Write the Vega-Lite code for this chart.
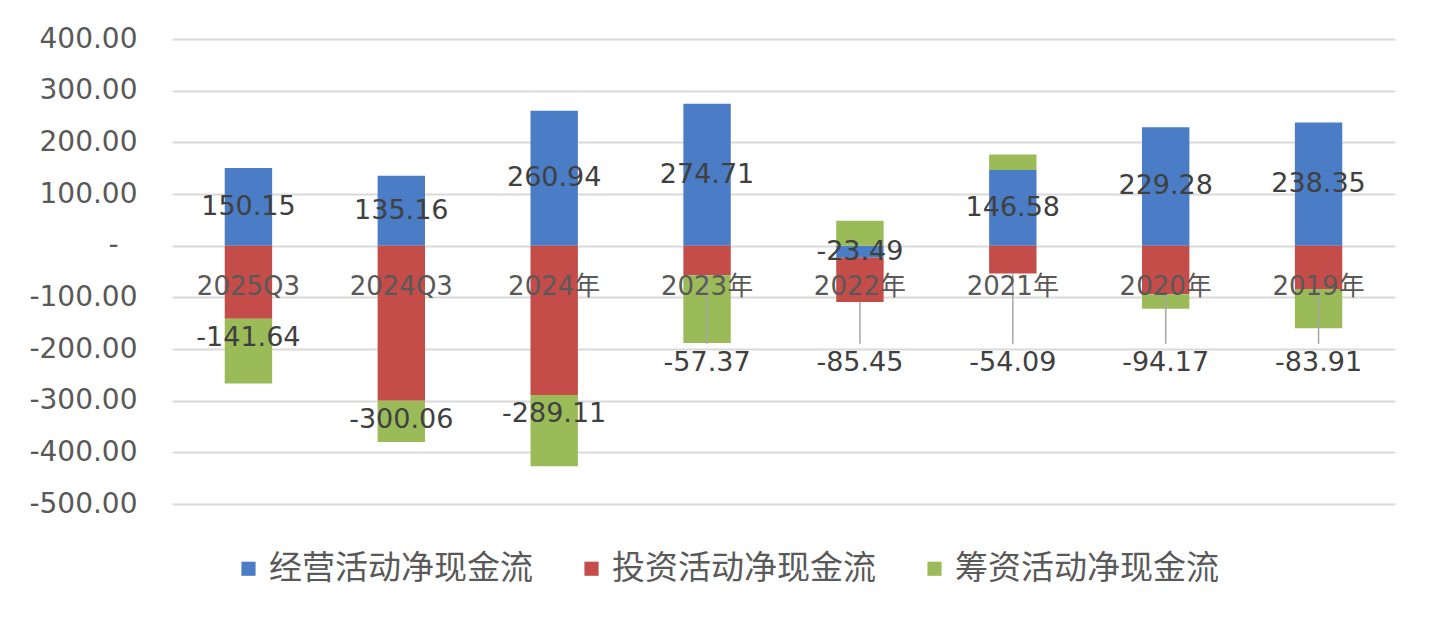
{
  "$schema": "https://vega.github.io/schema/vega-lite/v6.json",
  "width": 1223,
  "height": 465,
  "autosize": {"type": "none"},
  "padding": {"left": 172, "top": 39, "right": 43, "bottom": 118},
  "background": "#ffffff",
  "config": {
    "view": {"stroke": null},
    "font": "DejaVu Sans, Noto Sans CJK SC, sans-serif"
  },
  "data": {
    "values": [
      {"period": "2025Q3", "type": "经营活动净现金流", "value": 150.15},
      {"period": "2025Q3", "type": "投资活动净现金流", "value": -141.64},
      {"period": "2025Q3", "type": "筹资活动净现金流", "value": -125},
      {"period": "2024Q3", "type": "经营活动净现金流", "value": 135.16},
      {"period": "2024Q3", "type": "投资活动净现金流", "value": -300.06},
      {"period": "2024Q3", "type": "筹资活动净现金流", "value": -80},
      {"period": "2024年", "type": "经营活动净现金流", "value": 260.94},
      {"period": "2024年", "type": "投资活动净现金流", "value": -289.11},
      {"period": "2024年", "type": "筹资活动净现金流", "value": -138},
      {"period": "2023年", "type": "经营活动净现金流", "value": 274.71},
      {"period": "2023年", "type": "投资活动净现金流", "value": -57.37},
      {"period": "2023年", "type": "筹资活动净现金流", "value": -131},
      {"period": "2022年", "type": "经营活动净现金流", "value": -23.49},
      {"period": "2022年", "type": "投资活动净现金流", "value": -85.45},
      {"period": "2022年", "type": "筹资活动净现金流", "value": 48},
      {"period": "2021年", "type": "经营活动净现金流", "value": 146.58},
      {"period": "2021年", "type": "投资活动净现金流", "value": -54.09},
      {"period": "2021年", "type": "筹资活动净现金流", "value": 30},
      {"period": "2020年", "type": "经营活动净现金流", "value": 229.28},
      {"period": "2020年", "type": "投资活动净现金流", "value": -94.17},
      {"period": "2020年", "type": "筹资活动净现金流", "value": -28},
      {"period": "2019年", "type": "经营活动净现金流", "value": 238.35},
      {"period": "2019年", "type": "投资活动净现金流", "value": -83.91},
      {"period": "2019年", "type": "筹资活动净现金流", "value": -76}
    ]
  },
  "transform": [
    {"calculate": "indexof(['经营活动净现金流','投资活动净现金流','筹资活动净现金流'], datum.type)", "as": "order"},
    {"stack": "value", "groupby": ["period"], "sort": [{"field": "order", "order": "ascending"}], "as": ["y0", "y1"]},
    {"calculate": "(datum.y0 + datum.y1) / 2", "as": "mid"},
    {"calculate": "datum.y1 < -120 ? datum.y1 : -190", "as": "anchor"},
    {"calculate": "replace(format(datum.value, '.2f'), '\u2212', '-')", "as": "label"}
  ],
  "encoding": {
    "x": {
      "field": "period",
      "type": "nominal",
      "sort": ["2025Q3", "2024Q3", "2024年", "2023年", "2022年", "2021年", "2020年", "2019年"],
      "scale": {"paddingInner": 0.69, "paddingOuter": 0.345},
      "axis": {
        "orient": "bottom",
        "offset": -258.33,
        "title": null,
        "domain": false,
        "ticks": false,
        "grid": false,
        "labelAngle": 0,
        "labelPadding": 28,
        "labelFontSize": 26,
        "labelColor": "#595959",
        "labelOverlap": false,
        "zindex": 1
      }
    }
  },
  "layer": [
    {
      "mark": {"type": "bar"},
      "encoding": {
        "y": {
          "field": "y0",
          "type": "quantitative",
          "scale": {"domain": [-500, 400], "nice": false, "zero": false},
          "axis": {
            "title": null,
            "values": [-500, -400, -300, -200, -100, 0, 100, 200, 300, 400],
            "labelExpr": "datum.value === 0 ? '-' : replace(format(datum.value, '.2f'), '\u2212', '-')",
            "grid": true,
            "gridColor": "#D9D9D9",
            "gridWidth": 2,
            "domain": false,
            "ticks": false,
            "labelPadding": {"condition": {"test": "datum.value === 0", "value": 54}, "value": 35},
            "labelFontSize": 28,
            "labelColor": "#595959"
          }
        },
        "y2": {"field": "y1"},
        "color": {
          "field": "type",
          "type": "nominal",
          "scale": {
            "domain": ["经营活动净现金流", "投资活动净现金流", "筹资活动净现金流"],
            "range": ["#4A7DC5", "#C44D4A", "#9BBB59"]
          },
          "legend": {
            "orient": "none",
            "legendX": 60,
            "legendY": 513,
            "direction": "horizontal",
            "title": null,
            "symbolType": "square",
            "symbolSize": 200,
            "symbolStrokeWidth": 0,
            "labelFont": "Noto Sans CJK SC",
            "labelFontSize": 33,
            "labelColor": "#595959",
            "labelLimit": 500,
            "labelOffset": 4,
            "columnPadding": 42
          }
        }
      }
    },
    {
      "transform": [{"filter": "datum.type === '投资活动净现金流' && datum.anchor !== datum.y1"}],
      "mark": {"type": "rule", "color": "#A6A6A6", "strokeWidth": 1.5},
      "encoding": {
        "y": {"field": "y1", "type": "quantitative"},
        "y2": {"field": "anchor"}
      }
    },
    {
      "transform": [{"filter": "datum.type === '经营活动净现金流'"}],
      "mark": {"type": "text", "fontSize": 27, "color": "#404040", "baseline": "middle"},
      "encoding": {
        "y": {"field": "mid", "type": "quantitative"},
        "text": {"field": "label"}
      }
    },
    {
      "transform": [{"filter": "datum.type === '投资活动净现金流'"}],
      "mark": {"type": "text", "fontSize": 27, "color": "#404040", "baseline": "top", "dy": 6},
      "encoding": {
        "y": {"field": "anchor", "type": "quantitative"},
        "text": {"field": "label"}
      }
    }
  ]
}
